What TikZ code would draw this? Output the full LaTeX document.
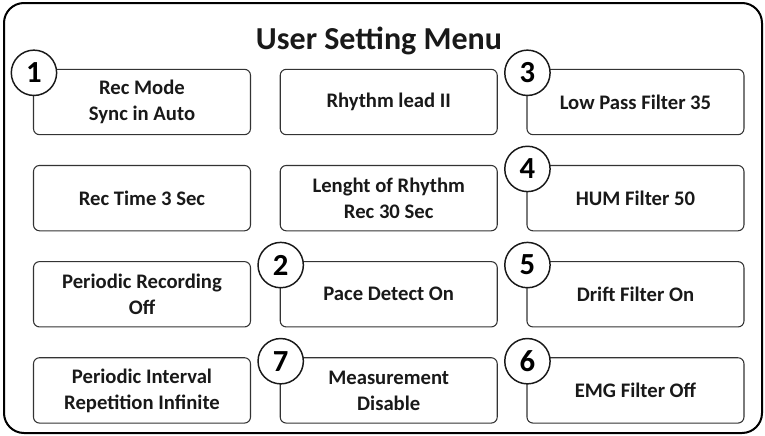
\documentclass[tikz,border=0pt]{standalone}
\usepackage{fontspec}
\setmainfont{Carlito}
\usetikzlibrary{positioning}

\begin{document}
\begin{tikzpicture}[x=0.75pt, y=-0.75pt,
    setting/.style={draw=black!80, line width=0.8pt, rounded corners=4.5pt,
        minimum width=162.75pt, minimum height=49pt, inner sep=0pt, align=center,
        text=black!90, font=\bfseries\fontsize{15.5}{19.5}\selectfont},
    badge/.style={circle, draw=black!90, fill=white, line width=1.1pt,
        minimum size=34pt, inner sep=0pt, font=\bfseries\fontsize{23}{23}\selectfont},
    node distance=22.3pt and 21.5pt]
    \useasboundingbox (0,0) rectangle (765,436);

    % Frame and title
    \draw[line width=1.5pt, rounded corners=15pt] (4,3) rectangle (762,433);
    \node[font=\bfseries\fontsize{24}{28}\selectfont, text=black!90] (title) at (379,41) {User Setting Menu};

    % Column 1
    \node[setting] (rec) at (142,102) {Rec Mode\\Sync in Auto};
    \node[setting, below=of rec] (time) {Rec Time 3 Sec};
    \node[setting, below=of time] (periodic) {Periodic Recording\\Off};
    \node[setting, below=of periodic] (interval) {Periodic Interval\\Repetition Infinite};

    % Column 2
    \node[setting, right=of rec] (lead) {Rhythm lead II};
    \node[setting, below=of lead] (length) {Lenght of Rhythm\\Rec 30 Sec};
    \node[setting, below=of length] (pace) {Pace Detect On};
    \node[setting, below=of pace] (measure) {Measurement\\Disable};

    % Column 3
    \node[setting, right=of lead] (lowpass) {Low Pass Filter 35};
    \node[setting, below=of lowpass] (hum) {HUM Filter 50};
    \node[setting, below=of hum] (drift) {Drift Filter On};
    \node[setting, below=of drift] (emg) {EMG Filter Off};

    % Numbered badges
    \node[badge] (n1) at ([shift={(1,4)}]rec.north west) {1};
    \node[badge] (n2) at ([shift={(1,4)}]pace.north west) {2};
    \node[badge] (n3) at ([shift={(1,4)}]lowpass.north west) {3};
    \node[badge] (n4) at ([shift={(1,4)}]hum.north west) {4};
    \node[badge] (n5) at ([shift={(1,4)}]drift.north west) {5};
    \node[badge] (n6) at ([shift={(1,4)}]emg.north west) {6};
    \node[badge] (n7) at ([shift={(1,4)}]measure.north west) {7};
\end{tikzpicture}
\end{document}
